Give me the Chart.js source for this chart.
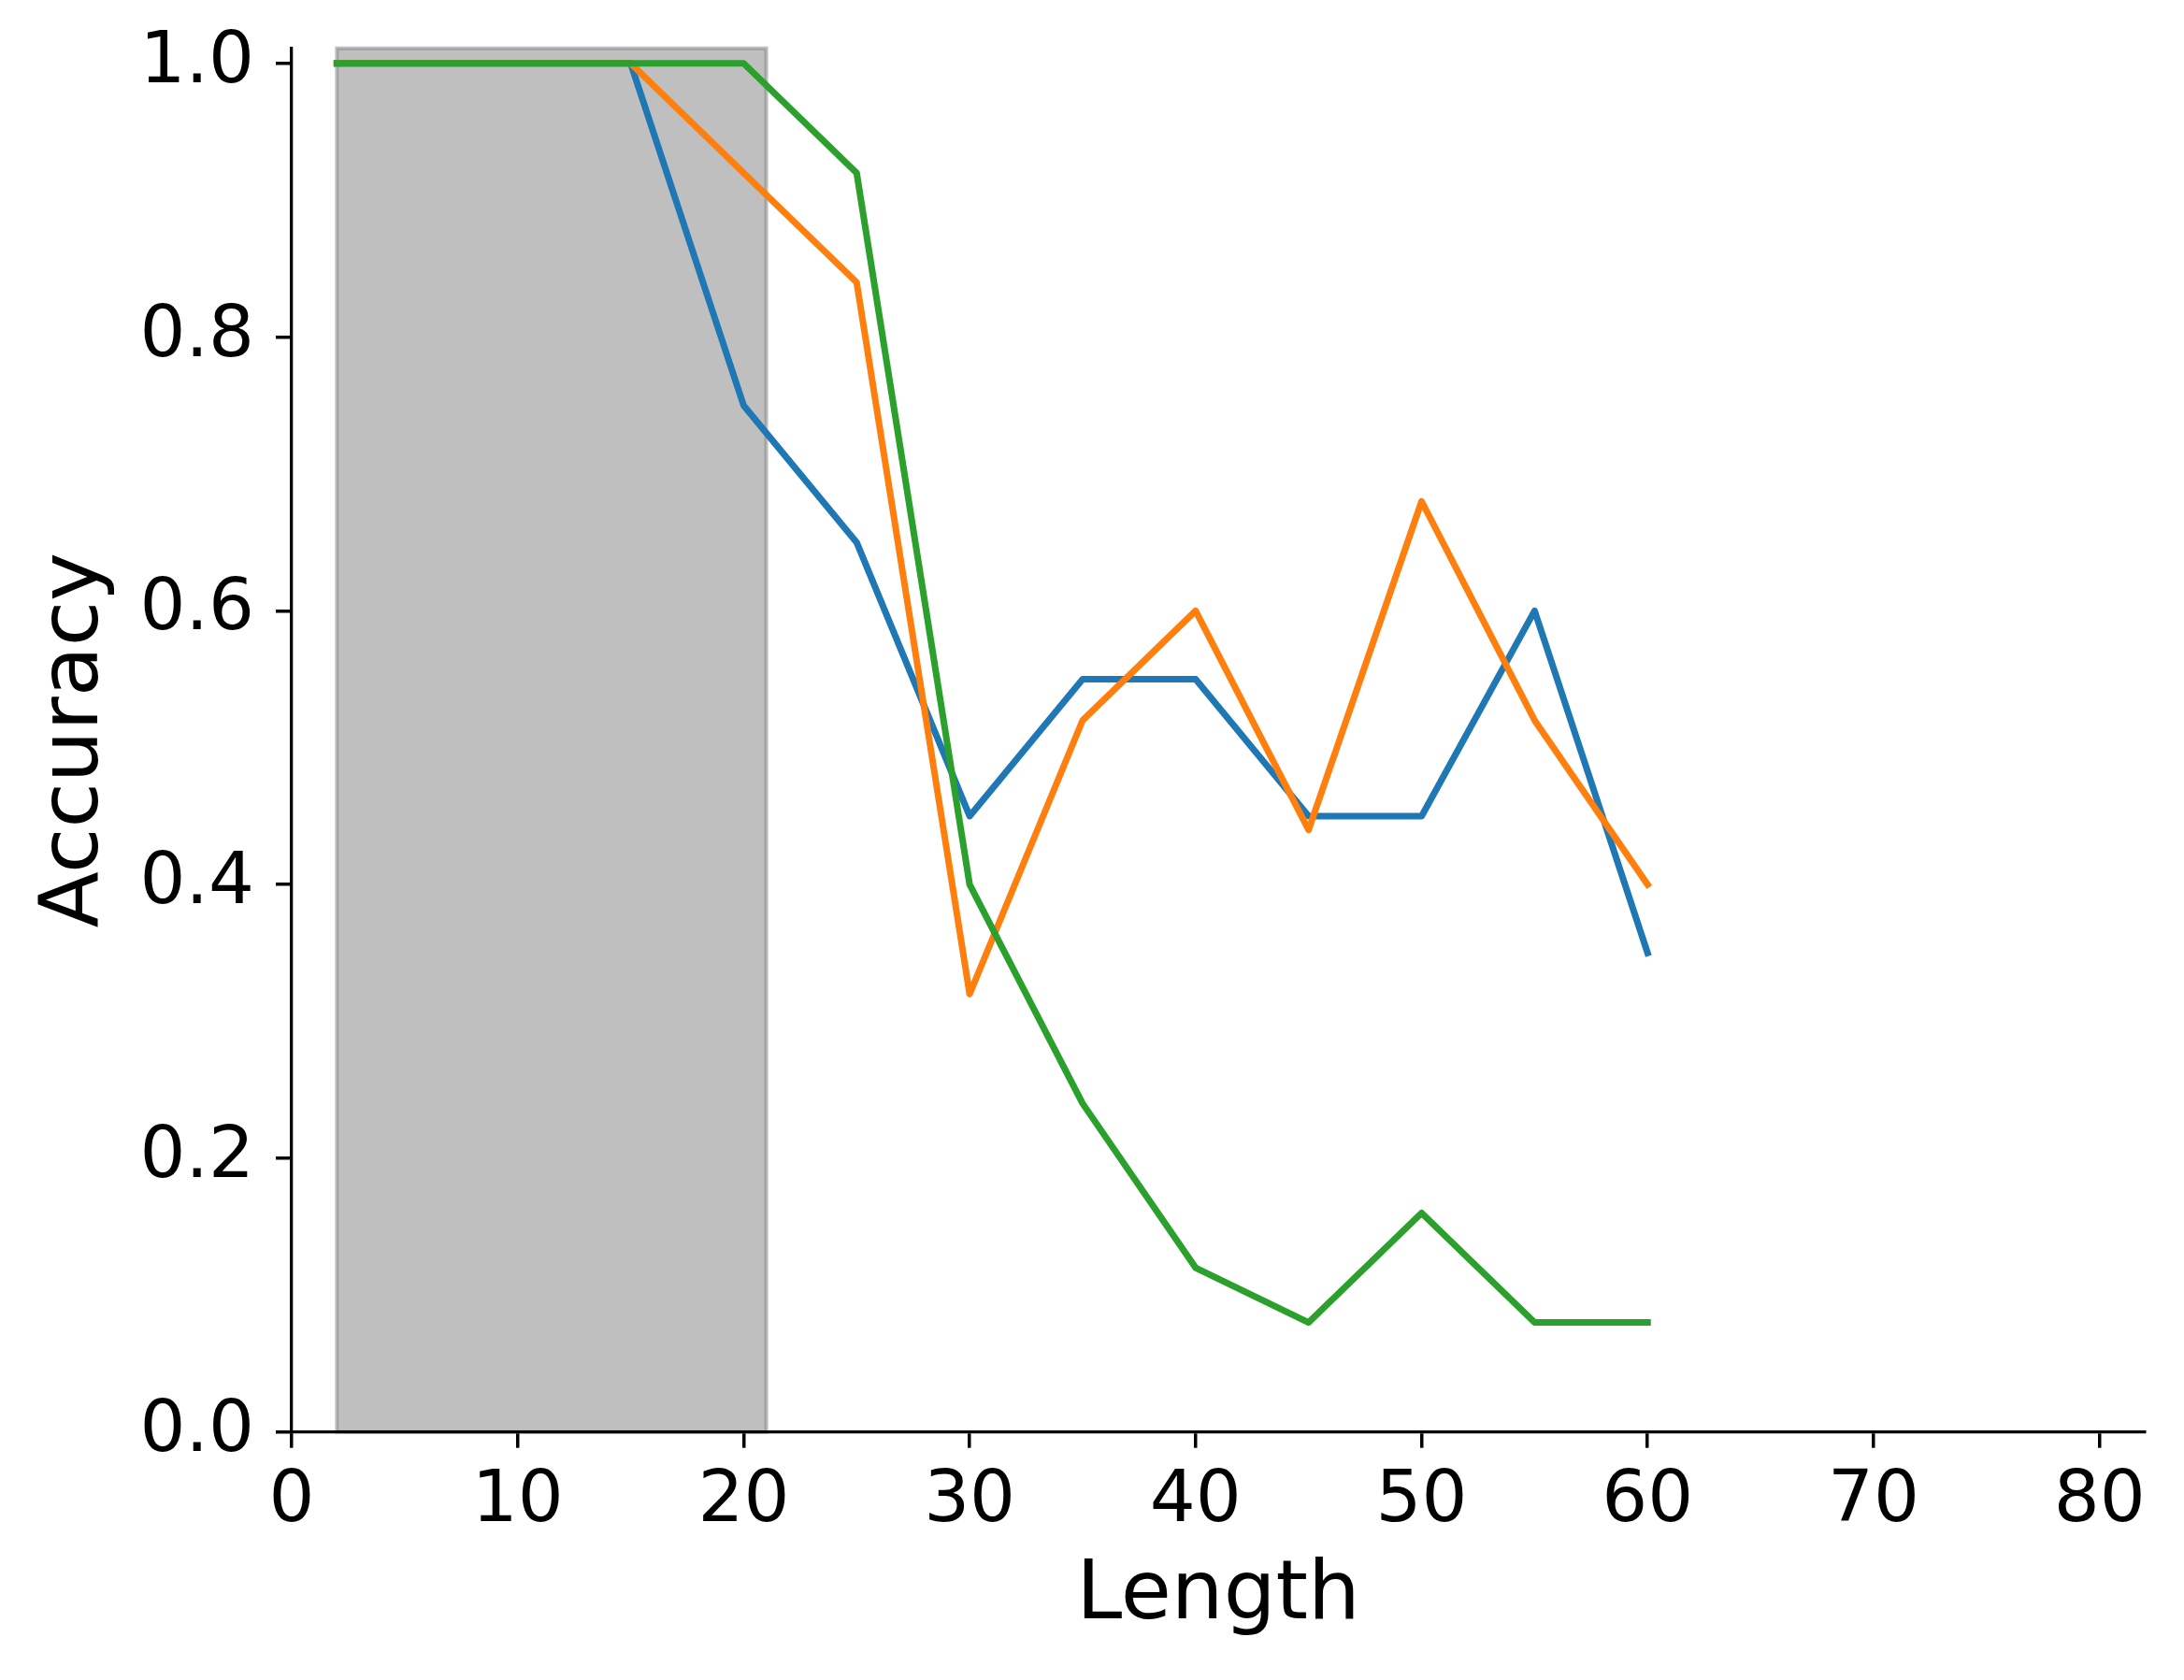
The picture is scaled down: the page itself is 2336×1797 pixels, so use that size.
<!DOCTYPE html>
<html><head><meta charset="utf-8">
<script src="https://cdn.jsdelivr.net/npm/chart.js@4"></script>
<style>html,body{margin:0;padding:0;background:#fff;} #wrap{width:2336px;height:1797px;}</style>
</head><body><div id="wrap"><canvas id="c" width="2336" height="1797"></canvas></div>
<script>
const lengths = [2, 5, 10, 15, 20, 25, 30, 35, 40, 45, 50, 55, 60];
const seriesBlue = [1.0, 1.0, 1.0, 1.0, 0.75, 0.65, 0.45, 0.55, 0.55, 0.45, 0.45, 0.60, 0.35];
const seriesOrange = [1.0, 1.0, 1.0, 1.0, 0.92, 0.84, 0.32, 0.52, 0.60, 0.44, 0.68, 0.52, 0.40];
const seriesGreen = [1.0, 1.0, 1.0, 1.0, 1.0, 0.92, 0.40, 0.24, 0.12, 0.08, 0.16, 0.08, 0.08];
const trainSpan = [2, 21];
const xTicks = [0, 10, 20, 30, 40, 50, 60, 70, 80];
const yTicks = [0.0, 0.2, 0.4, 0.6, 0.8, 1.0];
const xRange = [0, 82];
const yRange = [0, 1.011];

const toPts = (vals) => vals.map((v, i) => ({x: lengths[i], y: v}));

const spanPlugin = {
  id: 'span',
  beforeDraw(chart) {
    const {ctx, chartArea, scales} = chart;
    const x0 = scales.x.getPixelForValue(trainSpan[0]);
    const x1 = scales.x.getPixelForValue(trainSpan[1]);
    const y0 = chartArea.top, y1 = chartArea.bottom;
    ctx.save();
    ctx.fillStyle = 'rgba(128,128,128,0.5)';
    ctx.fillRect(x0, y0, x1 - x0, y1 - y0);
    ctx.strokeStyle = 'rgba(128,128,128,0.5)';
    ctx.lineWidth = 4;
    ctx.strokeRect(x0, y0, x1 - x0, y1 - y0);
    ctx.restore();
  }
};

const tickFont = {family: 'DejaVu Sans', size: 77};
const titleFont = {family: 'DejaVu Sans', size: 88};
const gridOpts = {display: true, drawOnChartArea: false, drawTicks: true, tickLength: 17, tickWidth: 3.5, tickColor: '#000', color: '#000', lineWidth: 3.5};
const borderOpts = {display: true, color: '#000', width: 3.3};

new Chart(document.getElementById('c'), {
  type: 'line',
  data: {
    datasets: [
      {label: 'green', data: toPts(seriesGreen), borderColor: '#2ca02c', order: 0},
      {label: 'orange', data: toPts(seriesOrange), borderColor: '#ff7f0e', order: 1},
      {label: 'blue', data: toPts(seriesBlue), borderColor: '#1f77b4', order: 2}
    ]
  },
  options: {
    responsive: false,
    animation: false,
    layout: {padding: {left: 0, top: 51.7, right: 42, bottom: 0}},
    plugins: {legend: {display: false}, tooltip: {enabled: false}},
    elements: {
      point: {radius: 0},
      line: {tension: 0, borderWidth: 7, borderCapStyle: 'square', borderJoinStyle: 'round', fill: false}
    },
    scales: {
      x: {
        type: 'linear', min: xRange[0], max: xRange[1],
        afterFit(s) { s.height = 265.3; s.paddingLeft = 0; s.paddingRight = 0; },
        afterBuildTicks(s) { s.ticks = xTicks.map(v => ({value: v})); },
        grid: gridOpts, border: borderOpts,
        ticks: {font: tickFont, color: '#000', padding: 12, maxRotation: 0, autoSkip: false, includeBounds: false,
                callback: v => String(v)},
        title: {display: true, text: 'Length', font: titleFont, color: '#000', padding: {top: 0, bottom: 36}}
      },
      y: {
        type: 'linear', min: yRange[0], max: yRange[1],
        afterFit(s) { s.width = 312; s.paddingTop = 0; s.paddingBottom = 0; },
        afterBuildTicks(s) { s.ticks = yTicks.map(v => ({value: v})); },
        grid: gridOpts, border: borderOpts,
        ticks: {font: tickFont, color: '#000', padding: 23, autoSkip: false, includeBounds: false,
                callback: v => Number(v).toFixed(1)},
        title: {display: true, text: 'Accuracy', font: titleFont, color: '#000', padding: {top: 28, bottom: 0}}
      }
    }
  },
  plugins: [spanPlugin]
});
</script>
</body></html>
